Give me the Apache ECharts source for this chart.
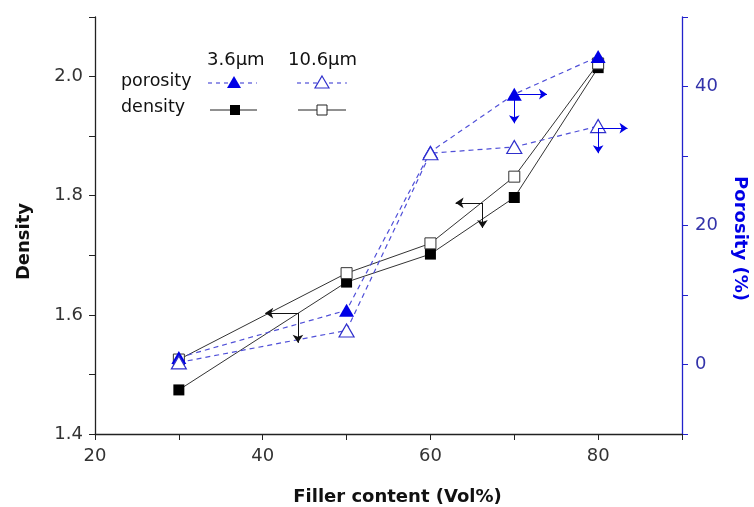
<!DOCTYPE html>
<html>
<head>
<meta charset="utf-8">
<script src="https://cdn.jsdelivr.net/npm/echarts@6/dist/echarts.min.js"></script>
<style>html,body{margin:0;padding:0;background:#fff;}#c{width:754px;height:507px;}</style>
</head>
<body>
<div id="c"></div>
<script>
const xValues = [30, 50, 60, 70, 80];
const density36 = [1.474, 1.655, 1.702, 1.797, 2.015];
const density106 = [1.525, 1.670, 1.720, 1.832, 2.022];
const porosity36 = [1.0, 7.8, 30.6, 38.9, 44.3];
const porosity106 = [0.3, 4.9, 30.4, 31.3, 34.3];
const xTickLabels = [20, 40, 60, 80];
const densityTickLabels = [1.4, 1.6, 1.8, 2.0];
const porosityTickLabels = [0, 20, 40];
// annotation arrows: [from, to] in data coords
const densityArrows = [
  [[44.2, 1.603], [40.3, 1.603]], [[44.2, 1.603], [44.2, 1.553]],
  [[66.2, 1.788], [63.0, 1.788]], [[66.2, 1.788], [66.2, 1.746]]
];
const porosityArrows = [
  [[70, 38.9], [73.9, 38.9]], [[70, 38.9], [70, 34.7]],
  [[80, 34.0], [83.5, 34.0]], [[80, 34.0], [80, 30.4]]
];

const FONT = '"DejaVu Sans", sans-serif';
const BLUE = '#0000e6';
const DASH = '#5050d8';
const pair = (xs, ys) => xs.map((x, i) => [x, ys[i]]);
const near = (v, list) => list.some(t => Math.abs(t - v) < 1e-6);
const arrowLines = arr => arr.map(a => [{coord: a[0], symbol: 'none'}, {coord: a[1], symbol: 'arrow'}]);

const chart = echarts.init(document.getElementById('c'));
chart.setOption({
  animation: false,
  backgroundColor: '#fff',
  grid: {left: 95, right: 72, top: 17, bottom: 73, outerBoundsMode: 'none', containLabel: false},
  xAxis: {
    type: 'value', min: 20, max: 90, interval: 10,
    name: 'Filler content (Vol%)', nameLocation: 'middle', nameGap: 54,
    nameTextStyle: {fontFamily: FONT, fontSize: 18, fontWeight: 'bold', color: '#111', padding: [0, 0, 0, 18]},
    axisLine: {onZero: false, lineStyle: {color: '#222', width: 1.3}},
    axisTick: {inside: false, length: 6, lineStyle: {color: '#222'}},
    axisLabel: {fontFamily: FONT, fontSize: 18, color: '#333', margin: 13,
      formatter: v => near(v, xTickLabels) ? String(v) : ''},
    splitLine: {show: false}
  },
  yAxis: [{
    type: 'value', min: 1.4, max: 2.1, interval: 0.1, position: 'left',
    name: 'Density', nameLocation: 'middle', nameGap: 62,
    nameTextStyle: {fontFamily: FONT, fontSize: 18, fontWeight: 'bold', color: '#111', padding: [0, 32, 0, 0]},
    axisLine: {show: true, lineStyle: {color: '#222', width: 1.3}},
    axisTick: {show: true, length: 6, lineStyle: {color: '#222'}},
    axisLabel: {fontFamily: FONT, fontSize: 18, color: '#333', margin: 12,
      formatter: v => near(v, densityTickLabels) ? v.toFixed(1) : ''},
    splitLine: {show: false}
  }, {
    type: 'value', min: -10, max: 50, interval: 10, position: 'right',
    name: 'Porosity (%)', nameLocation: 'middle', nameGap: 49, nameRotate: -90,
    nameTextStyle: {fontFamily: FONT, fontSize: 18, fontWeight: 'bold', color: BLUE, padding: [0, 0, 0, 26]},
    axisLine: {show: true, lineStyle: {color: '#2222cc', width: 1.3}},
    axisTick: {show: true, length: 6, lineStyle: {color: '#2222cc'}},
    axisLabel: {fontFamily: FONT, fontSize: 18, color: '#3333aa', margin: 13,
      formatter: v => near(v, porosityTickLabels) ? String(v) : ''},
    splitLine: {show: false}
  }],
  series: [{
    name: 'density 3.6', type: 'line', yAxisIndex: 0, data: pair(xValues, density36),
    symbol: 'rect', symbolSize: 11,
    lineStyle: {color: '#333', width: 1}, itemStyle: {color: '#000'},
    markLine: {silent: true, symbolSize: 8, label: {show: false},
      lineStyle: {color: '#111', width: 1, type: 'solid'}, data: arrowLines(densityArrows)}
  }, {
    name: 'density 10.6', type: 'line', yAxisIndex: 0, data: pair(xValues, density106),
    symbol: 'rect', symbolSize: 11,
    lineStyle: {color: '#333', width: 1}, itemStyle: {color: '#fff', borderColor: '#333', borderWidth: 1}
  }, {
    name: 'porosity 3.6', type: 'line', yAxisIndex: 1, data: pair(xValues, porosity36),
    symbol: 'triangle', symbolSize: [15, 13],
    lineStyle: {color: DASH, width: 1.2, type: [5, 4]}, itemStyle: {color: BLUE},
    markLine: {silent: true, symbolSize: 8, label: {show: false},
      lineStyle: {color: BLUE, width: 1, type: 'solid'}, data: arrowLines(porosityArrows)}
  }, {
    name: 'porosity 10.6', type: 'line', yAxisIndex: 1, data: pair(xValues, porosity106),
    symbol: 'triangle', symbolSize: [15, 13],
    lineStyle: {color: DASH, width: 1.2, type: [5, 4]}, itemStyle: {color: '#fff', borderColor: '#3030cc', borderWidth: 1.2}
  }],
  graphic: [
    {type: 'text', x: 207, y: 60, style: {text: '3.6μm', font: '18px ' + FONT, fill: '#111', verticalAlign: 'middle'}},
    {type: 'text', x: 288, y: 60, style: {text: '10.6μm', font: '18px ' + FONT, fill: '#111', verticalAlign: 'middle'}},
    {type: 'text', x: 121, y: 81.5, style: {text: 'porosity', font: '17.5px ' + FONT, fill: '#111', verticalAlign: 'middle'}},
    {type: 'text', x: 121, y: 107.5, style: {text: 'density', font: '17.5px ' + FONT, fill: '#111', verticalAlign: 'middle'}},
    {type: 'line', shape: {x1: 208, y1: 83, x2: 257, y2: 83}, style: {stroke: DASH, lineWidth: 1.2, lineDash: [4, 4]}},
    {type: 'polygon', shape: {points: [[234, 76], [241, 88], [227, 88]]}, style: {fill: BLUE}},
    {type: 'line', shape: {x1: 297, y1: 83, x2: 347, y2: 83}, style: {stroke: DASH, lineWidth: 1.2, lineDash: [4, 4]}},
    {type: 'polygon', shape: {points: [[322, 76], [329, 88], [315, 88]]}, style: {fill: '#fff', stroke: '#3030cc', lineWidth: 1.2}},
    {type: 'line', shape: {x1: 210, y1: 110, x2: 257, y2: 110}, style: {stroke: '#222', lineWidth: 1}},
    {type: 'rect', shape: {x: 230, y: 105, width: 10, height: 10}, style: {fill: '#000'}},
    {type: 'line', shape: {x1: 298, y1: 110, x2: 346, y2: 110}, style: {stroke: '#222', lineWidth: 1}},
    {type: 'rect', shape: {x: 317, y: 105, width: 10, height: 10}, style: {fill: '#fff', stroke: '#222', lineWidth: 1}}
  ]
});
</script>
</body>
</html>
